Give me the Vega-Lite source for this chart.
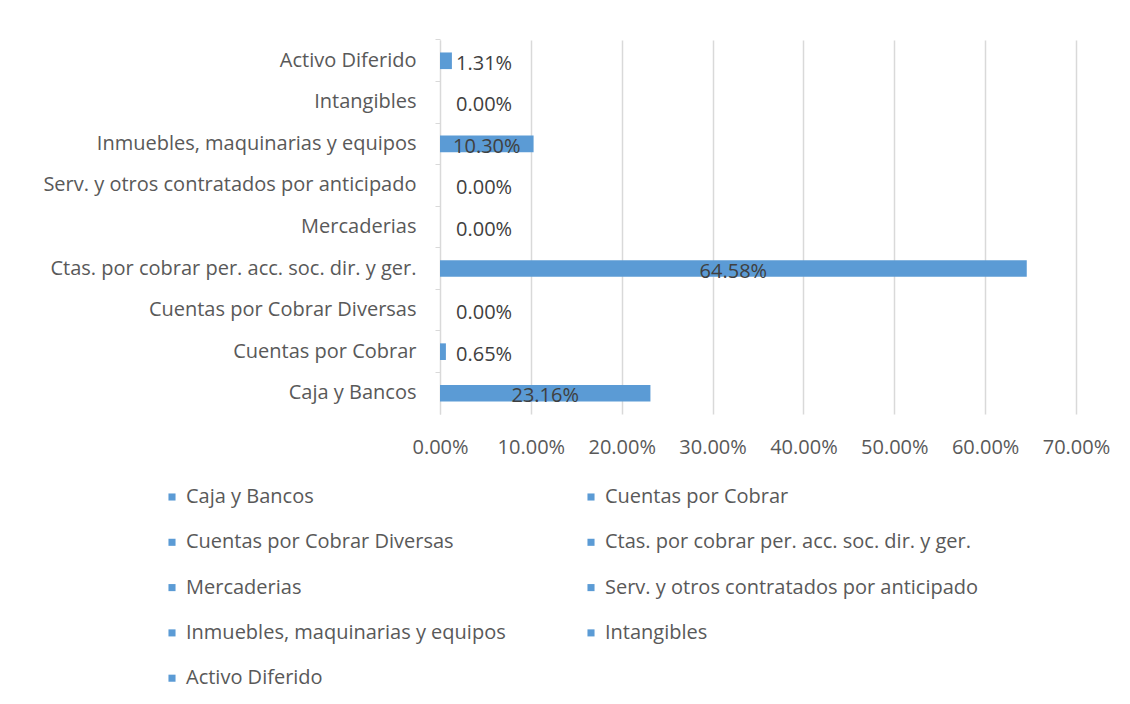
{
  "$schema": "https://vega.github.io/schema/vega-lite/v6.json",
  "width": 636,
  "height": 374,
  "autosize": {"type": "none"},
  "padding": {"left": 440, "top": 40, "right": 54, "bottom": 290},
  "background": "white",
  "config": {
    "font": "Open Sans",
    "view": {"stroke": null},
    "axis": {"labelFont": "Open Sans", "labelColor": "#595959", "labelFontSize": 20},
    "legend": {"labelFont": "Open Sans", "labelColor": "#595959", "labelFontSize": 20}
  },
  "data": {
    "values": [
      {"cat": "Caja y Bancos", "value": 0.2316},
      {"cat": "Cuentas por Cobrar", "value": 0.0065},
      {"cat": "Cuentas por Cobrar Diversas", "value": 0.0},
      {"cat": "Ctas. por cobrar per. acc. soc. dir. y ger.", "value": 0.6458},
      {"cat": "Mercaderias", "value": 0.0},
      {"cat": "Serv. y otros contratados por anticipado", "value": 0.0},
      {"cat": "Inmuebles, maquinarias y equipos", "value": 0.103},
      {"cat": "Intangibles", "value": 0.0},
      {"cat": "Activo Diferido", "value": 0.0131}
    ]
  },
  "transform": [{"calculate": "max(datum.value / 2, 0.0485)", "as": "lx"}],
  "encoding": {
    "y": {
      "field": "cat",
      "type": "nominal",
      "sort": ["Activo Diferido", "Intangibles", "Inmuebles, maquinarias y equipos", "Serv. y otros contratados por anticipado", "Mercaderias", "Ctas. por cobrar per. acc. soc. dir. y ger.", "Cuentas por Cobrar Diversas", "Cuentas por Cobrar", "Caja y Bancos"],
      "scale": {"paddingInner": 0.6, "paddingOuter": 0.3},
      "axis": {
        "title": null,
        "domainColor": "#D9D9D9",
        "tickColor": "#D9D9D9",
        "tickSize": 5,
        "bandPosition": -0.75,
        "labelPadding": 19,
        "labelLimit": 500,
        "grid": false
      }
    }
  },
  "layer": [
    {
      "mark": {"type": "bar"},
      "encoding": {
        "x": {
          "field": "value",
          "type": "quantitative",
          "scale": {"domain": [0, 0.7], "nice": false},
          "axis": {
            "title": null,
            "format": ".2%",
            "values": [0, 0.1, 0.2, 0.3, 0.4, 0.5, 0.6, 0.7],
            "domain": false,
            "ticks": false,
            "grid": true,
            "gridColor": "#D9D9D9",
            "gridWidth": 1.5,
            "labelPadding": 23,
            "labelFlush": false,
            "labelOverlap": false
          }
        },
        "color": {
          "field": "cat",
          "type": "nominal",
          "scale": {
            "domain": ["Caja y Bancos", "Cuentas por Cobrar", "Cuentas por Cobrar Diversas", "Ctas. por cobrar per. acc. soc. dir. y ger.", "Mercaderias", "Serv. y otros contratados por anticipado", "Inmuebles, maquinarias y equipos", "Intangibles", "Activo Diferido"],
            "range": ["#5B9BD5", "#5B9BD5", "#5B9BD5", "#5B9BD5", "#5B9BD5", "#5B9BD5", "#5B9BD5", "#5B9BD5", "#5B9BD5"]
          },
          "legend": {
            "title": null,
            "orient": "none",
            "legendX": -278,
            "legendY": 447,
            "direction": "horizontal",
            "columns": 2,
            "columnPadding": 75,
            "rowPadding": 25.3,
            "symbolType": "square",
            "symbolSize": 50,
            "symbolOffset": 0,
            "labelOffset": 4,
            "labelLimit": 500
          }
        }
      }
    },
    {
      "mark": {"type": "text", "fontSize": 20, "color": "#404040", "font": "Open Sans", "dy": 3},
      "encoding": {
        "x": {"field": "lx", "type": "quantitative"},
        "text": {"field": "value", "type": "quantitative", "format": ".2%"}
      }
    }
  ]
}
